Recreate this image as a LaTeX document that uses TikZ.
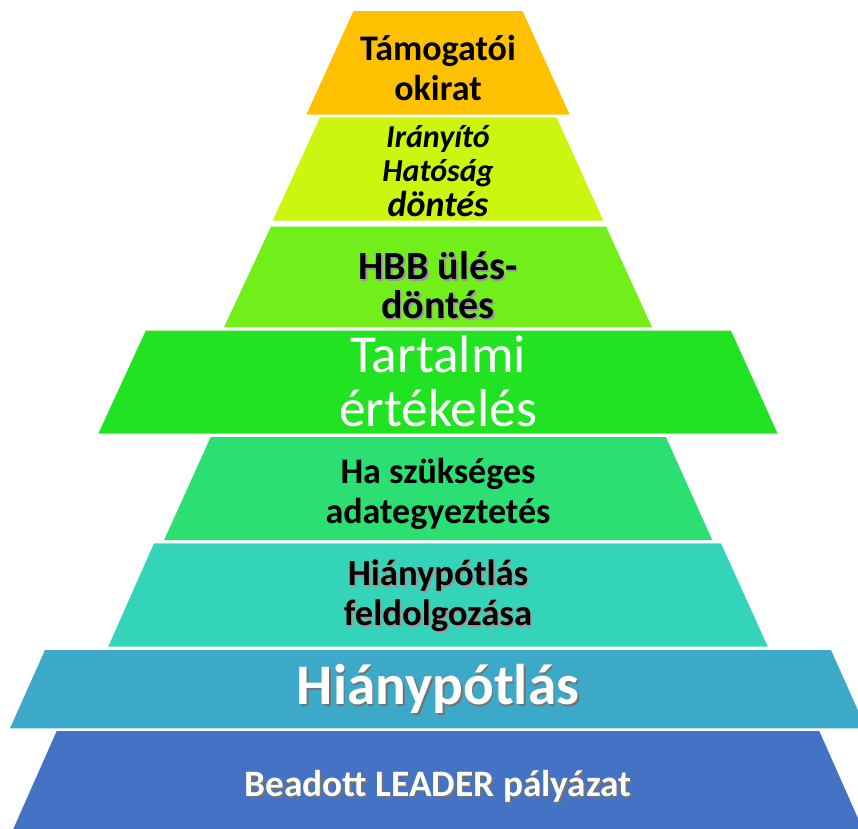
\documentclass[tikz,border=0pt]{standalone}
\usepackage{fontspec}
\setmainfont{Carlito}

\definecolor{okiratcol}{HTML}{FFC000}
\definecolor{iranyitocol}{HTML}{CCF50F}
\definecolor{hbbcol}{HTML}{72EE1A}
\definecolor{tartalmicol}{HTML}{22E322}
\definecolor{adatcol}{HTML}{2CDF72}
\definecolor{feldolgcol}{HTML}{33D4B9}
\definecolor{hianycol}{HTML}{3CA9C9}
\definecolor{beadottcol}{HTML}{4472C4}

\newcommand{\shd}[2][black!40]{\leavevmode\rlap{\kern1.3pt\raisebox{-1.3pt}{\textcolor{#1}{#2}}}#2}

\begin{document}
\begin{tikzpicture}[x=0.75pt, y=-0.75pt,
        lbl/.style={align=center, inner sep=0pt}]
                \clip (0, 0) rectangle (858, 829);

                \fill[okiratcol] (353.5, 11) -- (522.5, 11) -- (569.7, 114.7) -- (306.3, 114.7) -- cycle;

                \fill[iranyitocol] (320, 117.3) -- (556.5, 117.3) -- (603.3, 220.7) -- (272.7, 220.7) -- cycle;

                \fill[hbbcol] (271, 226.5) -- (606, 226.5) -- (652, 327.3) -- (224, 327.3) -- cycle;

                \fill[tartalmicol] (145.7, 330.7) -- (731, 330.7) -- (777.7, 433.7) -- (98.3, 433.7) -- cycle;

                \fill[adatcol] (210.7, 437) -- (665.9, 437) -- (712.3, 540.2) -- (164, 540.2) -- cycle;

                \fill[feldolgcol] (154, 543.3) -- (721, 543.3) -- (767.7, 646.5) -- (108.3, 646.5) -- cycle;

                \fill[hianycol] (45, 650) -- (831, 650) -- (866, 728.3) -- (10, 728.3) -- cycle;

                \fill[beadottcol] (56.7, 731) -- (819.3, 731) -- (864.5, 833) -- (11.5, 833) -- cycle;

                \node[lbl, font=\bfseries\fontsize{27}{29.5}\selectfont] (okirat) at (438, 68) {Támogatói\\okirat};

                \node[lbl, font=\bfseries\itshape\fontsize{24}{26}\selectfont] (iranyito) at (438, 171) {Irányító\\Hatóság\\{\fontsize{27}{26}\selectfont döntés}};

                \node[lbl, font=\bfseries\fontsize{30}{29}\selectfont] (hbb) at (438, 286) {\shd{HBB ülés-}\\\shd{döntés}};

                \node[lbl, text=white, font=\fontsize{40}{40.5}\selectfont] (tartalmi) at (438, 381) {Tartalmi\\értékelés};

                \node[lbl, font=\bfseries\fontsize{27}{30.5}\selectfont] (adat) at (438, 494) {Ha szükséges\\adategyeztetés};

                \node[lbl, font=\bfseries\fontsize{27.5}{30}\selectfont] (feldolg) at (438, 597) {\shd{Hiánypótlás}\\\shd{feldolgozása}};

                \node[lbl, text=white, font=\bfseries\fontsize{43}{43}\selectfont] (hiany) at (438, 690) {\shd[black!55]{Hiánypótlás}};

                \node[lbl, text=white, font=\bfseries\fontsize{28}{28}\selectfont] (beadott) at (438, 787) {\shd[black!55]{Beadott LEADER pályázat}};
            \end{tikzpicture}
\end{document}
